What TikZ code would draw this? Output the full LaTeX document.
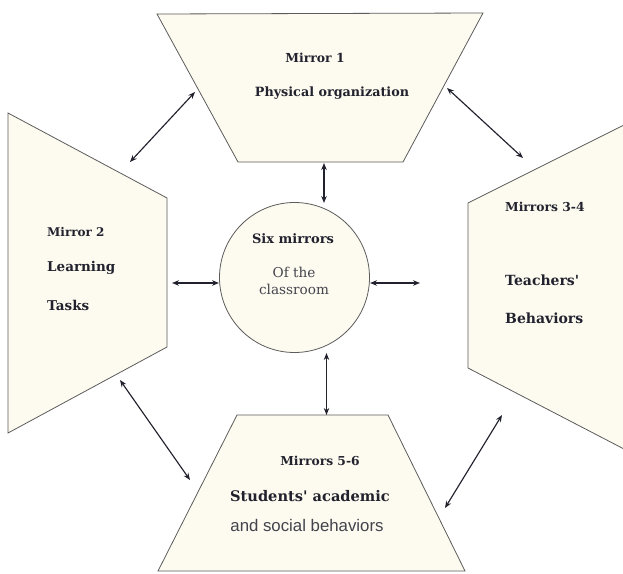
\documentclass[tikz,border=0pt]{standalone}
\usepackage{fontspec}
\setmainfont{DejaVu Serif}[Ligatures=TeXOff]
\setsansfont{Liberation Sans}
\usetikzlibrary{arrows.meta}
\definecolor{cream}{HTML}{FDFAEF}
\definecolor{edge}{HTML}{5C5C5C}
\definecolor{ink}{HTML}{22222E}
\newcommand{\fsz}[1]{\fontsize{#1}{#1}\selectfont}
\begin{document}
\begin{tikzpicture}[x=1pt,y=-1pt,
  mirror/.style={draw=edge,fill=cream,line width=0.8pt,line join=miter},
  head/.style={font=\bfseries,text=ink,inner sep=0pt,anchor=base},
  plain/.style={text=ink!85,inner sep=0pt,anchor=base},
  sans/.style={font=\sffamily,text=ink!85,inner sep=0pt,anchor=base},
  twoway/.style={{Stealth[length=7pt,width=5.5pt]}-{Stealth[length=7pt,width=5.5pt]},line width=1.15pt,draw=ink}]
\useasboundingbox (0,0) rectangle (623,573);
\fill[white] (0,0) rectangle (623,573);
% mirrors
\draw[mirror] (157,14) -- (483,13) -- (403,162) -- (238,162) -- cycle;
\draw[mirror] (8,113) -- (167,198) -- (167,347) -- (8,433) -- cycle;
\fill[cream] (624,125) -- (468,203) -- (468,368) -- (624,449) -- cycle;
\draw[edge,line width=0.8pt] (624,125) -- (468,203) -- (468,368) -- (624,449);
\draw[mirror] (237,415) -- (388,415) -- (465,571) -- (158,571) -- cycle;
\node[circle,draw=edge,fill=cream,line width=0.8pt,minimum size=150pt,inner sep=0pt] (hub) at (294.5,277.5) {};
% texts
\node[head] (m1) at (315,62.5) {\fsz{12.4}Mirror 1};
\node[head] (m1b) at (332,96.5) {\fsz{12.75}Physical organization};
\node[head,anchor=base west] (m2) at (47,236.5) {\fsz{12}Mirror 2};
\node[head,anchor=base west] (m2b) at (47,271.5) {\fsz{13.5}Learning};
\node[head,anchor=base west] (m2c) at (47,310) {\fsz{13.5}Tasks};
\node[head,anchor=base west] (m3) at (505,211) {\fsz{12.3}Mirrors 3-4};
\node[head,anchor=base west] (m3b) at (505,285) {\fsz{14}Teachers'};
\node[head,anchor=base west] (m3c) at (505,323) {\fsz{14}Behaviors};
\node[head] (m5) at (320,465) {\fsz{12.3}Mirrors 5-6};
\node[head] (m5b) at (310,501.5) {\fsz{14.6}Students' academic};
\node[sans] (m5c) at (307,531.5) {\fsz{16.8}and social behaviors};
\node[head] (h1) at (293,243.3) {\fsz{13}Six mirrors};
\node[plain] (h2) at (294,277.3) {\fsz{13.6}Of the};
\node[plain] (h3) at (294,294.3) {\fsz{13.6}classroom};
% arrow end points
\coordinate (tlA) at (130,162); \coordinate (tlB) at (195,92);
\coordinate (trA) at (447,88);  \coordinate (trB) at (523,158);
\coordinate (blA) at (120,380); \coordinate (blB) at (190,480);
\coordinate (brA) at (502,415); \coordinate (brB) at (445,508);
\coordinate (tvA) at (324,163); \coordinate (tvB) at (324,203);
\coordinate (bvA) at (326.5,353); \coordinate (bvB) at (326.5,415);
\coordinate (lhA) at (172,283); \coordinate (lhB) at (219,283);
\coordinate (rhA) at (370,283); \coordinate (rhB) at (420,283);
% connectors
\draw[twoway] (tlA) -- (tlB);
\draw[twoway] (trA) -- (trB);
\draw[twoway] (blA) -- (blB);
\draw[twoway] (brA) -- (brB);
\draw[twoway] (tvA) -- (tvB);
\draw[twoway] (bvA) -- (bvB);
\draw[twoway] (lhA) -- (lhB);
\draw[twoway] (rhA) -- (rhB);
\end{tikzpicture}
\end{document}
